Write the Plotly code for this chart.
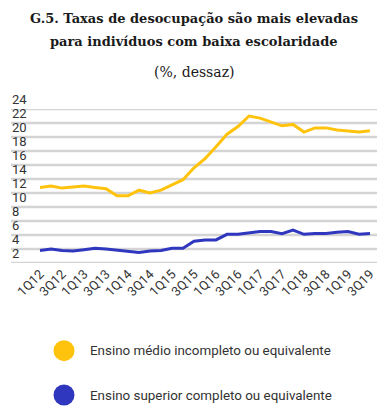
import plotly.graph_objects as go

quarters = ["1Q12","2Q12","3Q12","4Q12","1Q13","2Q13","3Q13","4Q13",
            "1Q14","2Q14","3Q14","4Q14","1Q15","2Q15","3Q15","4Q15",
            "1Q16","2Q16","3Q16","4Q16","1Q17","2Q17","3Q17","4Q17",
            "1Q18","2Q18","3Q18","4Q18","1Q19","2Q19","3Q19"]
medio_incompleto = [12.8, 13.0, 12.7, 12.9, 13.0, 12.8, 12.6, 11.6, 11.6, 12.4, 12.0, 12.4,
                    13.1, 13.9, 15.6, 16.9, 18.6, 20.4, 21.5, 23.0, 22.7, 22.1, 21.6, 21.8,
                    20.7, 21.3, 21.3, 21.0, 20.9, 20.7, 20.9]
superior_completo = [3.8, 4.0, 3.8, 3.7, 3.9, 4.1, 4.0, 3.8, 3.7, 3.5, 3.7, 3.8,
                     4.1, 4.1, 5.1, 5.3, 5.3, 6.1, 6.1, 6.3, 6.5, 6.5, 6.2, 6.7,
                     6.1, 6.2, 6.2, 6.4, 6.5, 6.1, 6.2]
series_names = ["Ensino médio incompleto ou equivalente",
                "Ensino superior completo ou equivalente"]
y_ticks = [2, 4, 6, 8, 10, 12, 14, 16, 18, 20, 22, 24]
x_tick_labels = quarters[::2]

YELLOW = "#FFC30D"
BLUE = "#3037BF"
GRID = "#d4d4d4"
W, H = 391, 419
L, R, T, B = 11, 14, 109, 156
pw, ph = W - L - R, H - T - B
X_RANGE = [-2.636, len(quarters) - 1 + 0.636]

def py(pix):
    return (H - B - pix) / ph

def px(pix):
    return (pix - L) / pw

xi = list(range(len(quarters)))

fig = go.Figure()
fig.add_trace(go.Scatter(x=xi, y=medio_incompleto, mode="lines",
                         line=dict(color=YELLOW, width=3), name=series_names[0],
                         showlegend=False, hoverinfo="skip"))
fig.add_trace(go.Scatter(x=xi, y=superior_completo, mode="lines",
                         line=dict(color=BLUE, width=3), name=series_names[1],
                         showlegend=False, hoverinfo="skip"))

annotations = [
    dict(text="<b>G.5. Taxas de desocupação são mais elevadas</b>", x=0.5, xref="paper",
         y=py(18), yref="paper", showarrow=False, xanchor="center", yanchor="middle",
         font=dict(family="DejaVu Serif", size=13, color="#1a1a1a")),
    dict(text="<b>para indivíduos com baixa escolaridade</b>", x=0.5, xref="paper",
         y=py(42), yref="paper", showarrow=False, xanchor="center", yanchor="middle",
         font=dict(family="DejaVu Serif", size=13, color="#1a1a1a")),
    dict(text="(%, dessaz)", x=0.5, xref="paper",
         y=py(72), yref="paper", showarrow=False, xanchor="center", yanchor="middle",
         font=dict(family="DejaVu Serif", size=14, color="#1a1a1a")),
]
shapes = []
for v in y_ticks:
    shapes.append(dict(type="line", xref="x", yref="y", x0=X_RANGE[0], x1=X_RANGE[1],
                       y0=v, y1=v, line=dict(color=GRID, width=2.5), layer="below"))
    annotations.append(dict(text=str(v), x=px(11), xref="paper", y=v, yref="y",
                            showarrow=False, xanchor="left", yanchor="middle", yshift=10,
                            borderpad=0,
                            font=dict(family="Roboto", size=13, color="#333333")))
for name, color, cy in [(series_names[0], YELLOW, 350.7), (series_names[1], BLUE, 395)]:
    shapes.append(dict(type="circle", xref="paper", yref="paper",
                       xsizemode="pixel", ysizemode="pixel",
                       xanchor=px(64), yanchor=py(cy),
                       x0=-10.5, x1=10.5, y0=-10.5, y1=10.5,
                       fillcolor=color, line=dict(width=0)))
    annotations.append(dict(text=name, x=px(88), xref="paper", y=py(cy), yref="paper",
                            showarrow=False, xanchor="left", yanchor="middle",
                            font=dict(family="Roboto", size=13.4, color="#333333")))

fig.update_layout(
    template="none",
    width=W, height=H,
    margin=dict(l=L, r=R, t=T, b=B, pad=0),
    paper_bgcolor="white", plot_bgcolor="rgba(0,0,0,0)",
    annotations=annotations, shapes=shapes,
    showlegend=False, hovermode=False,
)
fig.update_xaxes(range=X_RANGE, tickmode="array", tickvals=xi[::2],
                 ticktext=x_tick_labels, tickangle=-45, showgrid=False, zeroline=False,
                 showline=False, ticks="",
                 tickfont=dict(family="Roboto", size=13, color="#333333"))
fig.update_yaxes(range=[2, 24], tickmode="array", tickvals=y_ticks, showticklabels=False,
                 showgrid=False, zeroline=False, showline=False, ticks="")

fig.write_html("out.html", config={"displayModeBar": False, "staticPlot": True},
               post_script="document.body.style.margin='0';document.body.style.padding='0';")
